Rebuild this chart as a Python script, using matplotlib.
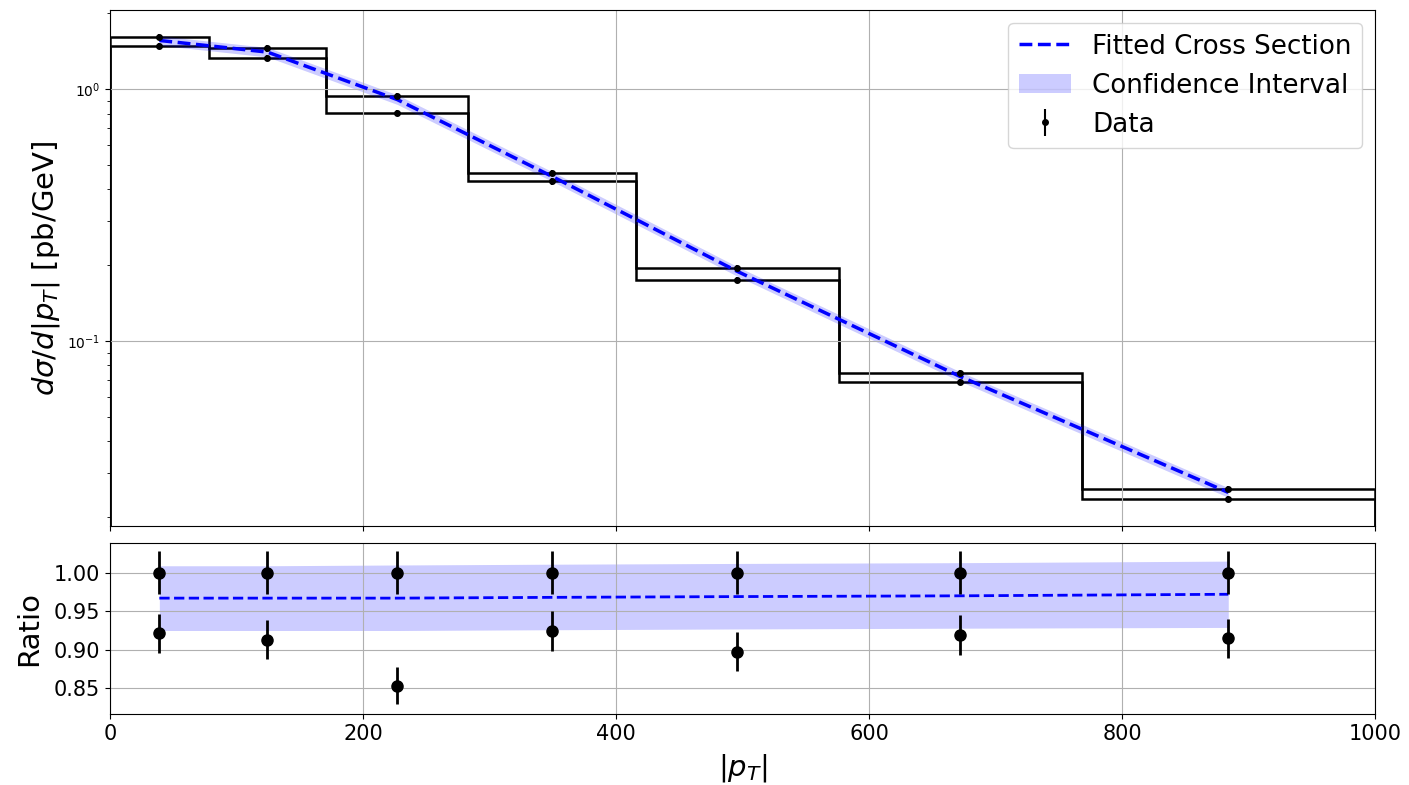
import matplotlib
matplotlib.use("Agg")
import matplotlib.pyplot as plt
import numpy as np

# bin edges and centres in |p_T|
edges = [0, 78, 171, 283, 416, 576, 768, 1000]
centers = [39, 124.5, 227, 349.5, 496, 672, 884]

# two data sets of d sigma / d|p_T| [pb/GeV]
data_ref = [1.613, 1.450, 0.940, 0.465, 0.195, 0.0746, 0.0258]
data_alt = [1.486, 1.324, 0.802, 0.430, 0.175, 0.0686, 0.0236]
rel_err = [0.028, 0.028, 0.028, 0.028, 0.028, 0.028, 0.028]

# fit and confidence band as ratio to the reference data
fit_ratio = [0.967, 0.967, 0.967, 0.968, 0.969, 0.970, 0.972]
band_lo = [0.925, 0.925, 0.925, 0.926, 0.927, 0.928, 0.929]
band_hi = [1.009, 1.009, 1.010, 1.011, 1.012, 1.013, 1.015]

ref = np.array(data_ref)
alt = np.array(data_alt)
err = np.array(rel_err)
fit = np.array(fit_ratio) * ref
lo = np.array(band_lo) * ref
hi = np.array(band_hi) * ref

fig = plt.figure(figsize=(14.09, 7.85), dpi=100)
W, H = 1409, 785
ax1 = fig.add_axes([110 / W, (H - 525.7) / H, 1265 / W, 515.7 / H])
ax2 = fig.add_axes([110 / W, (H - 714) / H, 1265 / W, 171.3 / H])

# top panel
ax1.set_yscale("log")
ax1.stairs(ref, edges, baseline=1e-4, color="black", linewidth=1.8)
ax1.stairs(alt, edges, baseline=1e-4, color="black", linewidth=1.8)
ax1.plot(centers, fit, "--", color="blue", linewidth=2.5, label="Fitted Cross Section")
ax1.fill_between(centers, lo, hi, color="blue", alpha=0.2, linewidth=0, label="Confidence Interval")
ax1.errorbar(centers, ref, yerr=err * ref, fmt="o", color="black", markersize=4, label="Data")
ax1.errorbar(centers, alt, yerr=err * alt, fmt="o", color="black", markersize=4)
ax1.set_xlim(0, 1000)
ax1.set_ylim(0.0185, 2.06)
ax1.set_ylabel(r"$d\sigma/d|p_T|$ [pb/GeV]", fontsize=21)
ax1.tick_params(labelbottom=False)
ax1.tick_params(axis="y", which="major", labelsize=10)
ax1.grid(True)
ax1.legend(loc="upper right", fontsize=18.8)

# ratio panel
ax2.fill_between(centers, band_lo, band_hi, color="blue", alpha=0.2, linewidth=0)
ax2.plot(centers, fit_ratio, "--", color="blue", linewidth=2)
ax2.errorbar(centers, ref / ref, yerr=err, fmt="o", color="black", markersize=8, elinewidth=2)
ax2.errorbar(centers, alt / ref, yerr=err * alt / ref, fmt="o", color="black", markersize=8, elinewidth=2)
ax2.set_xlim(0, 1000)
ax2.set_ylim(0.8167, 1.0389)
ax2.set_yticks([0.85, 0.90, 0.95, 1.00])
ax2.set_xlabel(r"$|p_T|$", fontsize=21, labelpad=6)
ax2.set_ylabel("Ratio", fontsize=21, labelpad=8)
ax2.tick_params(labelsize=15)
ax2.grid(True)

fig.savefig("out.png", dpi=100)
